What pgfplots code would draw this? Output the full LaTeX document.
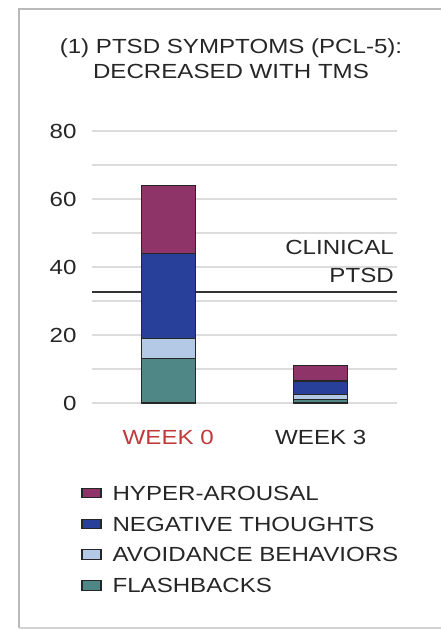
\documentclass[border=0pt]{standalone}
\usepackage{fontspec}
\setmainfont[FakeStretch=1.18]{Liberation Sans}
\usepackage{pgfplots}
\pgfplotsset{compat=1.18}

\definecolor{hyper}{HTML}{8E3468}
\definecolor{negth}{HTML}{28409A}
\definecolor{avoid}{HTML}{B3C9E5}
\definecolor{flash}{HTML}{4E8786}
\definecolor{txt}{HTML}{262626}
\definecolor{wkred}{HTML}{C0393B}
\definecolor{gridc}{HTML}{DCDCDC}

\begin{document}
\begin{tikzpicture}
\useasboundingbox (-92bp,-227bp) rectangle (349bp,403bp);
\begin{axis}[
    at={(0,0)}, anchor=south west,
    scale only axis,
    width=305bp, height=272bp,
    ybar stacked,
    bar width=54bp,
    xmin=-0.5, xmax=1.5,
    ymin=0, ymax=80,
    xtick={0,1},
    xticklabels={\textcolor{wkred}{WEEK 0},WEEK 3},
    ytick={0,20,...,80},
    minor ytick={10,30,50,70},
    ymajorgrids, yminorgrids,
    major grid style={gridc, line width=2.5bp},
    minor grid style={gridc, line width=2.5bp},
    axis line style={draw=none},
    tick style={draw=none},
    ticklabel style={font=\fontsize{20.5}{24}\selectfont, text=txt},
    yticklabel style={xshift=-12bp},
    xticklabel style={yshift=-24bp},
    /pgf/number format/assume math mode=true,
    reverse legend,
    legend style={
        at={(axis description cs:-0.045,-0.29)}, anchor=north west,
        draw=none, fill=none,
        font=\fontsize{20.5}{24}\selectfont, text=txt,
        row sep=11bp,
        /tikz/every odd column/.append style={column sep=9bp},
    },
    legend cell align=left,
    legend image code/.code={\draw[#1, line width=1.1bp] (0bp,-4bp) rectangle (19bp,5.5bp);},
]
\addplot[fill=flash, draw=black!85, line width=1.3bp] coordinates {(0,13) (1,1)};
\addplot[fill=avoid, draw=black!85, line width=1.3bp] coordinates {(0,6) (1,1.5)};
\addplot[fill=negth, draw=black!85, line width=1.3bp] coordinates {(0,25) (1,4)};
\addplot[fill=hyper, draw=black!85, line width=1.3bp] coordinates {(0,20) (1,4.5)};
\legend{FLASHBACKS, AVOIDANCE BEHAVIORS, NEGATIVE THOUGHTS, HYPER-AROUSAL}
\draw[black!80, line width=1.5bp] (axis cs:-0.5,32.6) -- (axis cs:1.5,32.6);
\node[anchor=south east, align=right, text=txt, font=\fontsize{20.5}{29}\selectfont, inner sep=0pt]
    at (axis cs:1.48,35.2) {CLINICAL\\PTSD};
\end{axis}
\draw[gray!55, line width=1.5bp] (-73bp,-225bp) -- (-73bp,394bp) -- (360bp,394bp);
\draw[gray!35, line width=1.5bp] (-73bp,-225bp) -- (360bp,-225bp);
\node[align=center, text=txt, font=\fontsize{20.5}{25}\selectfont] at (139bp,344bp)
    {(1) PTSD SYMPTOMS (PCL-5):\\DECREASED WITH TMS};
\end{tikzpicture}
\end{document}
